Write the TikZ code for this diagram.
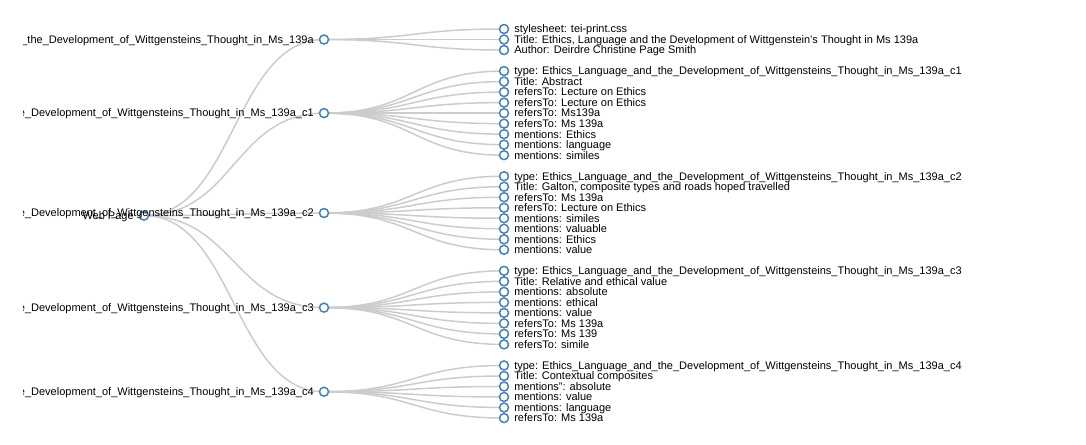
\documentclass[tikz,border=0pt]{standalone}
\usepackage{fontspec}
\setmainfont{Liberation Sans}
\usepackage{tikz}
\usetikzlibrary{positioning,backgrounds}
\definecolor{linkgray}{HTML}{CCCCCC}
\definecolor{steel}{HTML}{4682B4}
\newcommand{\msid}{Ethics\_Language\_and\_the\_Development\_of\_Wittgensteins\_Thought\_in\_Ms\_139a}
\newcommand{\msrest}{Development\_of\_Wittgensteins\_Thought\_in\_Ms\_139a}

\begin{document}
\begin{tikzpicture}[x=0.75pt, y=-0.75pt, font=\fontsize{8.25pt}{9pt}\selectfont,
  dot/.style={circle, draw=steel, fill=white, line width=1.125pt, minimum size=6.75pt, inner sep=0pt},
  link/.style={draw=linkgray, line width=1.125pt},
  lab/.style={inner sep=0pt, text height=7.4pt, text depth=1.6pt}]
\useasboundingbox (0,0) rectangle (1086,444);
\clip (23,0) rectangle (1086,444);
% root
\node[dot] (page) at (144,{29+10.514*17.75}) {};
% sections
\foreach \g/\c/\lab in {0/1/{\_the\_\msrest}, 1/8/{e\_\msrest\_c1}, 2/17.5/{e\_\msrest\_c2},
    3/26.5/{e\_\msrest\_c3}, 4/34.5/{e\_\msrest\_c4}}{
  \node[dot] (sec\g) at (324,{29+10.514*\c}) {};
  \node[lab, left=3.6pt of sec\g] (seclab\g) {\lab};
  \begin{scope}[on background layer]
    \draw[link] (page.center) .. controls +(90,0) and +(-90,0) .. (sec\g.center);
  \end{scope}
}
\node[lab, left=3.6pt of page] (pagelab) {Web Page};
% properties
\foreach \n/\g/\lab [count=\k] in {
    0/0/{stylesheet: tei-print.css},
    1/0/{Title: Ethics, Language and the Development of Wittgenstein's Thought in Ms 139a},
    2/0/{Author: Deirdre Christine Page Smith},
    4/1/{type: \msid\_c1}, 5/1/{Title: Abstract}, 6/1/{refersTo: Lecture on Ethics},
    7/1/{refersTo: Lecture on Ethics}, 8/1/{refersTo: Ms139a}, 9/1/{refersTo: Ms 139a},
    10/1/{mentions: Ethics}, 11/1/{mentions: language}, 12/1/{mentions: similes},
    14/2/{type: \msid\_c2}, 15/2/{Title: Galton, composite types and roads hoped travelled},
    16/2/{refersTo: Ms 139a}, 17/2/{refersTo: Lecture on Ethics}, 18/2/{mentions: similes},
    19/2/{mentions: valuable}, 20/2/{mentions: Ethics}, 21/2/{mentions: value},
    23/3/{type: \msid\_c3}, 24/3/{Title: Relative and ethical value}, 25/3/{mentions: absolute},
    26/3/{mentions: ethical}, 27/3/{mentions: value}, 28/3/{refersTo: Ms 139a},
    29/3/{refersTo: Ms 139}, 30/3/{refersTo: simile},
    32/4/{type: \msid\_c4}, 33/4/{Title: Contextual composites}, 34/4/{mentions": absolute},
    35/4/{mentions: value}, 36/4/{mentions: language}, 37/4/{refersTo: Ms 139a}}{
  \node[dot] (leaf\k) at (504,{29+10.514*\n}) {};
  \node[lab, right=3.6pt of leaf\k] (leaflab\k) {\lab};
  \begin{scope}[on background layer]
    \draw[link] (sec\g.center) .. controls +(90,0) and +(-90,0) .. (leaf\k.center);
  \end{scope}
}
\end{tikzpicture}
\end{document}
